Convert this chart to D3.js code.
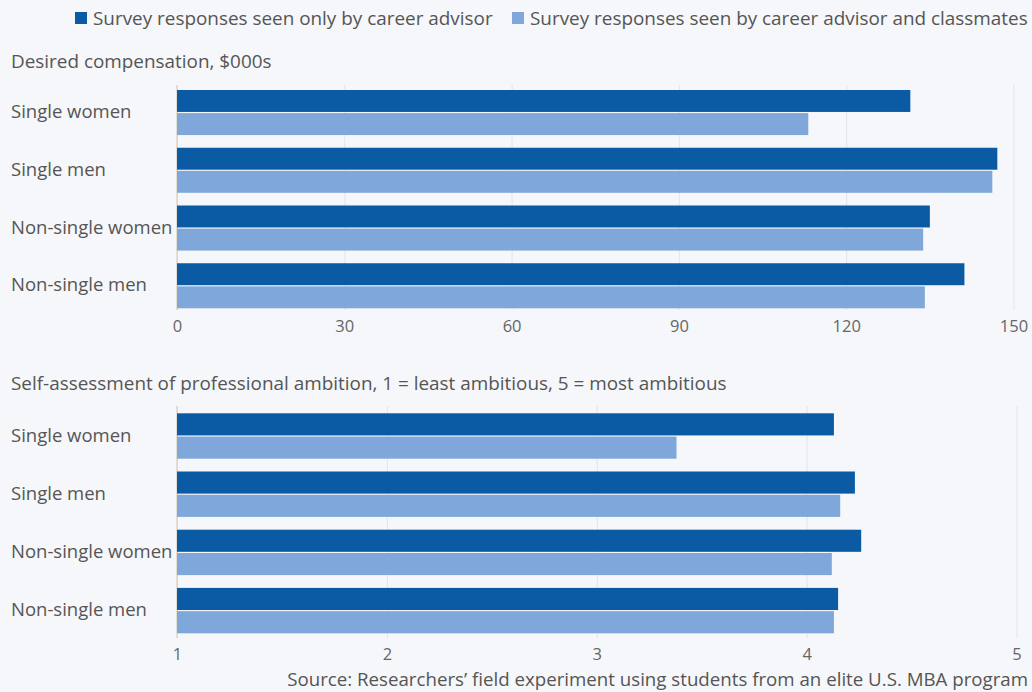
<!DOCTYPE html>
<html>
<head>
<meta charset="utf-8">
<script src="https://cdn.jsdelivr.net/npm/d3@7"></script>
<style>
  body { margin: 0; background: #f5f7fa; }
  svg { display: block; font-family: "Open Sans", "Noto Sans", sans-serif; }
  .grid line { stroke: #e2e5e9; }
  .grid path { display: none; }
  .ticks text { fill: #666; font-size: 16.5px; font-family: "Open Sans", sans-serif; }
  .ticks path, .ticks line { display: none; }
</style>
</head>
<body>
<div id="chart"></div>
<script>
var categories = ["Single women", "Single men", "Non-single women", "Non-single men"];
var seriesNames = ["Survey responses seen only by career advisor",
                   "Survey responses seen by career advisor and classmates"];
var pay_advisor = [131.5, 147.1, 135.0, 141.2];
var pay_classmates = [113.2, 146.2, 133.8, 134.1];
var amb_advisor = [4.13, 4.23, 4.26, 4.15];
var amb_classmates = [3.38, 4.16, 4.12, 4.13];
var payTicks = [0, 30, 60, 90, 120, 150];
var ambTicks = [1, 2, 3, 4, 5];

var colors = ["#0b5ba4", "#7fa7d9"];
var W = 1032, H = 692;

var svg = d3.select("#chart").append("svg")
    .attr("width", W).attr("height", H);

// legend
var legend = [{x: 75, tx: 93}, {x: 512, tx: 530}];
legend.forEach(function(l, i) {
  svg.append("rect").attr("x", l.x).attr("y", 12).attr("width", 12).attr("height", 12)
     .attr("fill", colors[i]);
  svg.append("text").attr("x", l.tx).attr("y", 24.5)
     .attr("fill", "#555").attr("font-size", "18.9px")
     .text(seriesNames[i]);
});

function panel(opts) {
  var x = d3.scaleLinear().domain(opts.domain).range([177, opts.right]);
  var y = d3.scaleBand().domain(categories).range(opts.yr).paddingInner(0.22);
  var inner = d3.scaleBand().domain([0, 1]).range([0, y.bandwidth()]).paddingInner(0.05);
  var g = svg.append("g");

  g.append("text").attr("x", 11).attr("y", opts.titleY)
   .attr("fill", "#555").attr("font-size", "18.9px").text(opts.title);

  g.append("g").attr("class", "grid")
   .attr("transform", "translate(0," + opts.axisBottom + ")")
   .call(d3.axisBottom(x).tickValues(opts.ticks).tickSize(-(opts.axisBottom - opts.axisTop)).tickFormat(""));

  g.append("line").attr("x1", 177).attr("x2", 177)
   .attr("y1", opts.axisTop).attr("y2", opts.axisBottom)
   .attr("stroke", "#d9cfbf").attr("stroke-width", 1.2);

  var rows = g.selectAll("g.row").data(categories).enter().append("g")
   .attr("class", "row")
   .attr("transform", function(d) { return "translate(0," + y(d) + ")"; });

  rows.selectAll("rect").data(function(d, i) {
      return [opts.a[i], opts.b[i]];
    }).enter().append("rect")
    .attr("x", x(opts.domain[0]))
    .attr("y", function(d, j) { return inner(j); })
    .attr("height", inner.bandwidth())
    .attr("width", function(d) { return x(d) - x(opts.domain[0]); })
    .attr("fill", function(d, j) { return colors[j]; });

  rows.append("text").attr("x", 11).attr("y", y.bandwidth() / 2).attr("dy", "0.3em")
    .attr("fill", "#555").attr("font-size", "18.5px")
    .text(function(d) { return d; });

  g.append("g").attr("class", "ticks")
   .attr("transform", "translate(0," + opts.axisBottom + ")")
   .call(d3.axisBottom(x).tickValues(opts.ticks).tickFormat(d3.format("d"))
          .tickSize(0).tickPadding(10));
}

panel({domain: [0, 150], right: 1013.5, ticks: payTicks, yr: [90, 308.3],
       axisTop: 85, axisBottom: 310, title: "Desired compensation, $000s", titleY: 68,
       a: pay_advisor, b: pay_classmates});
panel({domain: [1, 5], right: 1016.5, ticks: ambTicks, yr: [413.3, 633.3],
       axisTop: 406, axisBottom: 638,
       title: "Self-assessment of professional ambition, 1 = least ambitious, 5 = most ambitious", titleY: 390,
       a: amb_advisor, b: amb_classmates});

svg.append("text").attr("x", 1028).attr("y", 686).attr("text-anchor", "end")
   .attr("fill", "#555").attr("font-size", "18.7px")
   .text("Source: Researchers\u2019 field experiment using students from an elite U.S. MBA program");
</script>
</body>
</html>
